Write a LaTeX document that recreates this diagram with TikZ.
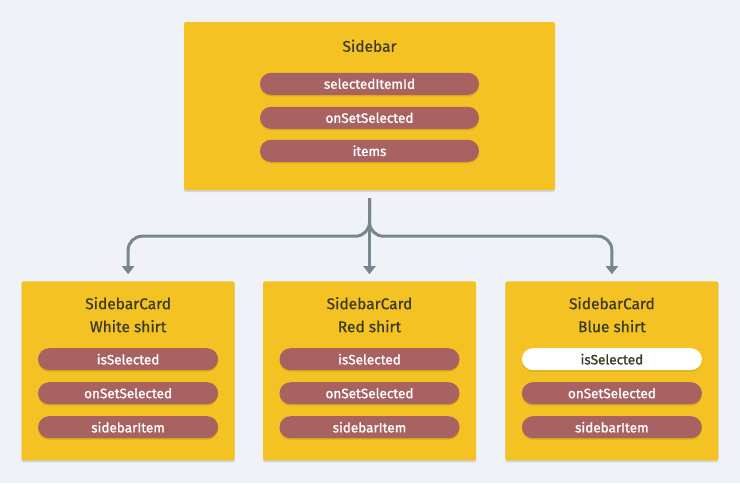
\documentclass[tikz,border=0pt]{standalone}
\usepackage{fontspec}
\setmainfont{Fira Sans}
\newfontfamily\propfont{Fira Sans}[FakeBold=1.2]
\newfontfamily\titlefont{Fira Sans}[FakeBold=0.6]
\usetikzlibrary{positioning,arrows.meta,shadows,calc}
\definecolor{bgcol}{HTML}{EFF3F7}
\definecolor{cardcol}{HTML}{F5C224}
\definecolor{propcol}{HTML}{A86262}
\definecolor{wirecol}{HTML}{78868F}
\definecolor{inkcol}{HTML}{3B3A24}

\begin{document}
\begin{tikzpicture}[x=1pt,y=-1pt,
    comp/.style={fill=cardcol,rounded corners=2pt,
      drop shadow={shadow xshift=0pt,shadow yshift=-2pt,opacity=0.12,fill=black}},
    title/.style={text=inkcol,font=\titlefont\fontsize{15.5}{23}\selectfont,align=center},
    prop/.style={fill=propcol,rounded corners=11pt,minimum height=22pt,inner sep=0pt,
      text=white,font=\propfont\fontsize{13.5}{13.5}\selectfont,
      drop shadow={shadow xshift=0pt,shadow yshift=-1.5pt,opacity=0.12,fill=black}},
    prop on/.style={prop,fill=white,text=inkcol},
    wire/.style={draw=wirecol,line width=3pt,-{Triangle[width=12pt,length=8pt]}}]
 \useasboundingbox[fill=bgcol] (0,0) rectangle (740,483);
 % parent
 \node[comp,minimum width=371pt,minimum height=168pt] (sb) at (369.5,106) {};
 \node[title] (sb-t) at ($(sb.north)+(0,24)$) {Sidebar};
 \foreach \p/\txt/\dy in {id/selectedItemId/62, set/onSetSelected/96, items/items/129}
  \node[prop,minimum width=219pt] (sb-\p) at ($(sb.north)+(0,\dy)$) {\txt};
 % children
 \node[comp,minimum width=213pt,minimum height=179pt,below=91pt of sb] (rc) {};
 \node[comp,minimum width=213pt,minimum height=179pt,left=28pt of rc] (wc) {};
 \node[comp,minimum width=213pt,minimum height=179pt,right=29pt of rc] (bc) {};
 \foreach \c/\shirt/\sel in {wc/White shirt/prop, rc/Red shirt/prop, bc/Blue shirt/prop on} {
  \node[title] (\c-t) at ($(\c.north)+(0,33.5)$) {SidebarCard\\\shirt};
  \node[\sel,minimum width=180pt] (\c-sel) at ($(\c.north)+(0,78)$) {isSelected};
  \node[prop,minimum width=180pt] (\c-set) at ($(\c.north)+(0,112)$) {onSetSelected};
  \node[prop,minimum width=180pt] (\c-item) at ($(\c.north)+(0,146)$) {sidebarItem};
 }
 % connectors
 \draw[wire,rounded corners=14pt,shorten >=7pt] ($(sb.south)+(0,8)$) |- ($(wc.north)+(0,-45)$) -- (wc.north);
 \draw[wire,rounded corners=14pt,shorten >=7pt] ($(sb.south)+(0,8)$) |- ($(bc.north)+(0,-45)$) -- (bc.north);
 \draw[wire,shorten <=8pt,shorten >=7pt] (sb.south) -- (rc.north);
\end{tikzpicture}
\end{document}
